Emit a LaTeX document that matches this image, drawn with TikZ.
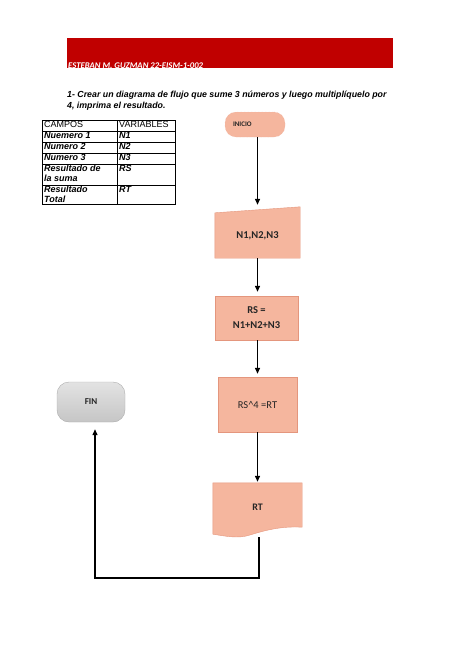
\documentclass[tikz,border=0pt]{standalone}
\usepackage{fontspec}
\setmainfont{Liberation Sans}
\newfontfamily\calibri{Carlito}
\usetikzlibrary{arrows.meta, positioning, calc}
\definecolor{bannerred}{RGB}{192, 0, 0}
\definecolor{salmon}{RGB}{245, 182, 158}
\definecolor{salmonline}{RGB}{228, 150, 125}

\begin{document}
\begin{tikzpicture}[x=1pt, y=-1pt,
  flowbox/.style={draw=salmonline, fill=salmon, text=black!85, align=center, inner sep=2pt},
  flowarrow/.style={-{Triangle[length=6pt, width=5pt]}, line width=1.3pt},
  celltext/.style={anchor=north west, inner sep=1pt, align=left, font=\fontsize{9}{10}\selectfont}]
  \useasboundingbox (0,0) rectangle (474,670);

  % banner
  \node[fill=bannerred, minimum width=326pt, minimum height=30pt, anchor=north west, inner sep=0pt] (banner) at (67,38) {};
  \node[anchor=south west, text=white, inner sep=1pt, font=\calibri\bfseries\itshape\fontsize{8.7}{10}\selectfont] (autor) at ([yshift=-1pt]banner.south west) {ESTEBAN M. GUZMAN 22-EISM-1-002};

  % enunciado
  \node[anchor=north west, align=left, inner sep=0pt, font=\bfseries\itshape\fontsize{8.8}{11}\selectfont] (enunciado) at (67,91) {1- Crear un diagrama de flujo que sume 3 números y luego multiplíquelo por\\4, imprima el resultado.};

  % tabla de variables
  \draw[line width=0.6pt] (42,120) rectangle (175,204);
  \foreach \y in {131,142,153,164,185}
    \draw[line width=0.6pt] (42,\y) -- (175,\y);
  \draw[line width=0.6pt] (117,120) -- (117,204);
  \node[celltext] (campos) at (43,120) {CAMPOS};
  \node[celltext] (variables) at (118,120) {VARIABLES};
  \foreach \nm/\y/\campo/\var in {a/131/Nuemero 1/N1, b/142/Numero 2/N2, c/153/Numero 3/N3,
      d/164/{Resultado de\\la suma}/RS, e/185/{Resultado\\Total}/RT} {
    \node[celltext, font=\bfseries\itshape\fontsize{9}{10}\selectfont] (campo\nm) at (43,\y) {\campo};
    \node[celltext, font=\bfseries\itshape\fontsize{9}{10}\selectfont] (var\nm) at (118,\y) {\var};
  }

  % diagrama
  \node[flowbox, draw=salmonline!70, densely dotted, rounded corners=11pt, minimum width=60pt, minimum height=25pt, text width=44pt, align=left, font=\calibri\bfseries\fontsize{7}{8}\selectfont] (inicio) at (255,124.5) {INICIO};

  \node[minimum width=85pt, minimum height=51pt, inner sep=0pt] (entrada) at (257.5,232.5) {};
  \draw[draw=salmonline, fill=salmon] (entrada.south west) -- ([yshift=-6pt]entrada.north west) -- (entrada.north east) -- (entrada.south east) -- cycle;
  \node[font=\calibri\bfseries\fontsize{10.5}{12}\selectfont, text=black!85] at ([yshift=-3pt]entrada.center) {N1,N2,N3};

  \node[flowbox, minimum width=83pt, minimum height=44pt, font=\calibri\bfseries\fontsize{10.5}{15}\selectfont] (suma) at (256.5,318) {RS =\\N1+N2+N3};

  \node[flowbox, minimum width=79pt, minimum height=55pt, font=\calibri\fontsize{10.5}{12}\selectfont] (mult) at (257.5,404.5) {RS\textasciicircum4 =RT};

  \node[minimum width=89pt, minimum height=54pt, inner sep=0pt] (salida) at (257.5,510) {};
  \draw[draw=salmonline, fill=salmon] (salida.north west) -- (salida.north east) -- ([yshift=10pt]salida.south east)
    .. controls (282,526) and (266,530) .. (250,535) .. controls (238,539) and (225,536) .. ([yshift=3pt]salida.south west) -- cycle;
  \node[font=\calibri\bfseries\fontsize{10}{12}\selectfont, text=black!85] at ([yshift=3pt]salida.center) {RT};

  \node[draw=gray!65, top color=gray!22, bottom color=gray!45, rounded corners=12pt, minimum width=68pt, minimum height=40pt, font=\calibri\bfseries\fontsize{9}{11}\selectfont, text=black!85] (fin) at (91,402) {FIN};

  \coordinate (esquina) at (95,578);
  \draw[flowarrow] (inicio.south -| entrada.north) -- ([yshift=2pt]entrada.north);
  \draw[flowarrow] (entrada.south) -- ([yshift=4pt]entrada.south |- suma.north);
  \draw[flowarrow] (suma.south -| mult.north) -- ([yshift=3pt]mult.north);
  \draw[flowarrow] (mult.south) -- ([yshift=1pt]salida.north);
  \draw[flowarrow] ([xshift=1.5pt]salida.south) |- (esquina) -- ([yshift=-7pt]esquina |- fin.south);
\end{tikzpicture}
\end{document}
